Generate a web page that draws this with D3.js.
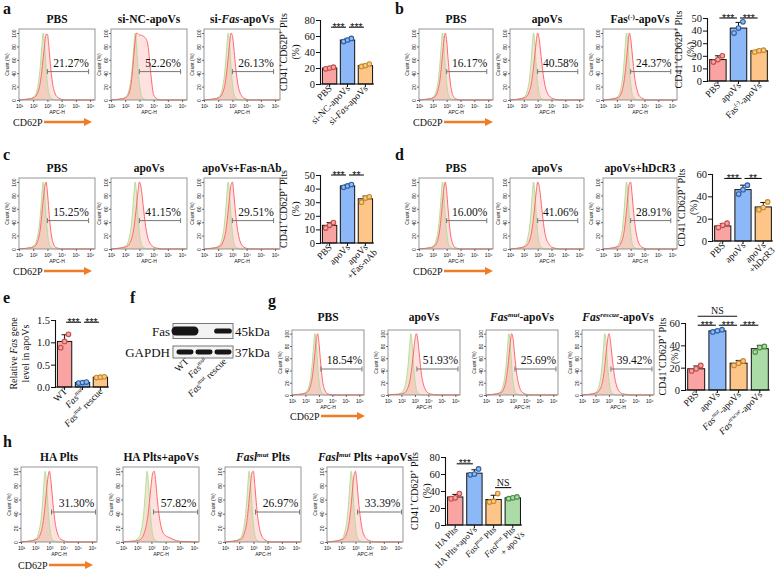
<!DOCTYPE html>
<html><head><meta charset="utf-8">
<script src="https://cdnjs.cloudflare.com/ajax/libs/d3/7.8.5/d3.min.js"></script>
<style>
body{margin:0;background:#fff}
svg{display:block}
svg text{font-family:"Liberation Serif","Tinos","Times New Roman","DejaVu Serif","Noto Serif",serif;fill:#111}
svg text.sans{font-family:"Liberation Sans","Arimo",Arial,"DejaVu Sans",sans-serif}
</style>
</head><body>
<svg id="c" width="780" height="572"></svg>
<script>
// ---------------- DATA ----------------
const histLogs = [1.0,1.5,1.8,2.0,2.2,2.3,2.4,2.5,2.6,2.7,2.8,2.9,3.0,3.1,3.2,3.3,3.4,3.5,3.6,3.8,4.0,4.3,4.6,5.0,6.3];
const controlCurve = [0,1,2,4,10,18,30,50,78,100,82,50,25,10,4,2,1,0,0,0,0,0,0,0,0];
const histTicks = [1,2,3,4,5,6];
const countTicks = [0,20,40,60,80,100];

// panel a
const aTitles = ["PBS","si-NC-apoVs","si-<i>Fas</i>-apoVs"];
const aPct = ["21.27%","52.26%","26.13%"];
const aRed = [
  [0,1,2,3,6,10,16,26,42,62,82,98,98,80,55,35,20,12,7,3,1,0,0,0,0],
  [0,1,2,3,7,12,22,40,65,88,100,99,97,97,96,95,93,90,82,40,8,1,0,0,0],
  [0,1,2,3,6,10,16,26,42,62,84,100,96,78,55,36,22,13,8,3,1,0,0,0,0]];
const aCats = ["PBS","si-NC-apoVs","si-<i>Fas</i>-apoVs"];
const aMeans = [20,55,23];
const aSD = [1,2,1.5];
const aDots = [[19,20,21],[53,55,57],[22,23,25]];
const aSigs = [[0,1,71,"***"],[1,2,71,"***"]];

// panel b
const bTitles = ["PBS","apoVs","Fas<sup>(-)</sup>-apoVs"];
const bPct = ["16.17%","40.58%","24.37%"];
const bRed = [
  [0,1,2,3,6,10,17,28,46,68,88,100,88,62,38,20,10,5,2,1,0,0,0,0,0],
  [0,1,2,3,5,8,13,20,32,48,68,88,100,92,75,55,38,25,16,7,3,1,0,0,0],
  [0,1,2,3,5,9,15,25,40,60,82,100,92,72,50,32,20,12,7,3,1,0,0,0,0]];
const bCats = ["PBS","apoVs","Fas<sup>(-)</sup>-apoVs"];
const bMeans = [17,42,24];
const bSD = [3,4.5,0.8];
const bDots = [[15,17,20],[38,42,47],[23,24,24.5]];
const bSigs = [[0,1,50,"***"],[1,2,50,"***"]];

// panel c
const cTitles = ["PBS","apoVs","apoVs+Fas-nAb"];
const cPct = ["15.25%","41.15%","29.51%"];
const cRed = [
  [0,1,2,3,6,11,18,30,50,72,92,100,85,58,34,18,9,4,2,1,0,0,0,0,0],
  [0,1,2,3,5,8,12,19,30,46,66,86,100,94,78,58,40,26,16,7,3,1,0,0,0],
  [0,1,2,3,5,9,14,23,37,56,78,96,100,82,58,38,24,14,8,3,1,0,0,0,0]];
const cCats = ["PBS","apoVs","apoVs|+Fas-nAb"];
const cMeans = [13,42,32.5];
const cSD = [2,1,2];
const cDots = [[11,13,15],[41,42,43],[30,33,34]];
const cSigs = [[0,1,50,"***"],[1,2,50,"**"]];

// panel d
const dTitles = ["PBS","apoVs","apoVs+hDcR3"];
const dPct = ["16.00%","41.06%","28.91%"];
const dRed = [
  [0,1,2,3,6,10,17,29,48,70,90,100,86,60,36,19,10,5,2,1,0,0,0,0,0],
  [0,1,2,3,5,8,12,19,30,46,66,86,100,95,80,60,42,27,17,8,3,1,0,0,0],
  [0,1,2,3,5,9,14,23,37,57,80,97,100,82,58,38,24,14,8,3,1,0,0,0,0]];
const dCats = ["PBS","apoVs","apoVs|+hDcR3"];
const dMeans = [13.5,46,30.5];
const dSD = [2,4,4];
const dDots = [[12,14,16],[42,46,50],[28,30,35]];
const dSigs = [[0,1,56,"***"],[1,2,56,"**"]];

// panel e
const eCats = ["WT","<i>Fas</i><sup>mut</sup>","<i>Fas</i><sup>mut</sup> rescue"];
const eMeans = [1.02,0.10,0.22];
const eSD = [0.15,0.01,0.015];
const eDots = [[0.88,1.02,1.18],[0.09,0.10,0.11],[0.21,0.22,0.23]];
const eSigs = [[0,1,1.45,"***"],[1,2,1.45,"***"]];

// panel f (western blot, relative band intensity)
const blotLanes = ["WT","<i>Fas</i><sup>mut</sup>","<i>Fas</i><sup>mut</sup> rescue"];
const blotRows = ["Fas","GAPDH"];
const blotSizes = ["45kDa","37kDa"];
const fasBand = [1.0,0.0,0.45];
const gapdhBand = [0.42,0.42,0.42];

// panel g
const gTitles = ["PBS","apoVs","<i>Fas<sup>mut</sup></i>-apoVs","<i>Fas<sup>rescue</sup></i>-apoVs"];
const gPct = ["18.54%","51.93%","25.69%","39.42%"];
const gRed = [
  [0,1,2,3,6,10,17,28,46,68,90,100,86,60,36,19,10,5,2,1,0,0,0,0,0],
  [0,1,1,2,3,5,8,13,21,33,50,70,90,100,92,72,50,32,20,8,3,1,0,0,0],
  [0,1,2,3,5,9,15,25,41,62,84,100,94,72,50,32,20,12,7,3,1,0,0,0,0],
  [0,1,2,3,5,8,12,19,31,48,70,90,100,90,70,50,33,21,13,5,2,1,0,0,0]];
const gCats = ["PBS","apoVs","<i>Fas<sup>mut</sup></i>-apoVs","<i>Fas<sup>rescue</sup></i>-apoVs"];
const gMeans = [19,53,24,37];
const gSD = [2.5,1,2.5,3];
const gDots = [[17,19,22],[52,53,54],[22,24,26],[34,38,39]];
const gSigs = [[0,2,66,"NS"],[0,1,58,"***"],[1,2,58,"***"],[2,3,58,"***"]];

// panel h
const hTitles = ["HA Plts","HA Plts+apoVs","<i>Fasl<sup>mut</sup></i> Plts","<i>Fasl<sup>mut</sup></i> Plts +apoVs"];
const hPct = ["31.30%","57.82%","26.97%","33.39%"];
const hRed = [
  [0,1,2,3,5,8,13,21,34,52,74,92,100,88,66,44,28,17,10,4,2,0,0,0,0],
  [0,1,1,2,3,5,8,13,20,30,45,64,84,98,100,86,64,44,30,14,9,6,3,1,0],
  [0,1,2,3,5,9,15,24,39,60,82,98,100,80,56,36,22,13,8,3,1,0,0,0,0],
  [0,1,2,3,5,8,13,21,34,52,75,94,100,86,62,42,27,16,10,4,2,0,0,0,0]];
const hCats = ["HA Plts","HA Plts+apoVs","<i>Fasl</i><sup>mut</sup> Plts","<i>Fasl</i><sup>mut</sup> Plts|+ apoVs"];
const hMeans = [33,61,30,32];
const hSD = [3,4,5,1];
const hDots = [[31,32,37],[59,60,66],[27,28,37],[31,32,33]];
const hSigs = [[0,1,72,"***"],[2,3,44,"NS"]];

const barFill = ["#f9a3a3","#8db8f7","#fdc688","#abdca7"];
const dotStroke = ["#c2504c","#2f5f9e","#c78a2d","#4a8f45"];
const supDigits = {1:"¹",2:"²",3:"³",4:"⁴",5:"⁵",6:"⁶"};

// ---------------- HELPERS ----------------
const svg = d3.select("#c");

function rich(textSel, str, fs){
  const tokens = str.split(/(<\/?(?:i|sup)>)/).filter(s=>s.length);
  let it=false, sup=false, pend=0;
  tokens.forEach(tk=>{
    if(tk==="<i>") it=true;
    else if(tk==="</i>") it=false;
    else if(tk==="<sup>"){sup=true; pend-=fs*0.38;}
    else if(tk==="</sup>"){sup=false; pend+=fs*0.38;}
    else{
      const ts=textSel.append("tspan").text(tk)
        .attr("font-size", sup? fs*0.62 : fs);
      if(it) ts.attr("font-style","italic");
      if(pend) ts.attr("dy",pend);
      pend=0;
    }
  });
  return textSel;
}

function panelLabel(t,x,y){
  svg.append("text").attr("x",x).attr("y",y).attr("font-size",16).attr("font-weight","bold").text(t);
}

function arrowCD62P(x,y,x2){
  svg.append("text").attr("x",x).attr("y",y+3.5).attr("font-size",10).text("CD62P");
  svg.append("line").attr("x1",x+31).attr("x2",x2-6).attr("y1",y).attr("y2",y)
    .attr("stroke","#f07d26").attr("stroke-width",2.4);
  svg.append("path").attr("d",`M${x2},${y}L${x2-8},${y-4}L${x2-8},${y+4}Z`).attr("fill","#f07d26");
}

function hist(o){
  const g = svg.append("g");
  const x = d3.scaleLinear().domain([1,6.35]).range([o.left,o.left+o.w]);
  const y = d3.scaleLinear().domain([0,106]).range([o.top+o.h,o.top]);
  const area = d3.area().x((d,i)=>x(histLogs[i])).y0(y(0)).y1(d=>y(d)).curve(d3.curveMonotoneX);
  const line = area.lineY1();
  g.append("path").attr("d",area(controlCurve)).attr("fill","rgba(220,196,150,0.45)");
  g.append("path").attr("d",area(o.red)).attr("fill","rgba(250,150,150,0.28)");
  g.append("path").attr("d",line(controlCurve)).attr("fill","none").attr("stroke","#b5de98").attr("stroke-width",1);
  g.append("path").attr("d",line(o.red)).attr("fill","none").attr("stroke","#ff6868").attr("stroke-width",1);
  g.append("rect").attr("x",o.left).attr("y",o.top).attr("width",o.w).attr("height",o.h)
    .attr("fill","none").attr("stroke","#8a8a8a").attr("stroke-width",0.9);
  const ya = g.append("g").attr("transform",`translate(${o.left},0)`)
    .call(d3.axisLeft(y).tickValues(countTicks).tickSize(2));
  ya.select(".domain").remove();
  ya.selectAll("line").attr("stroke","#666");
  ya.selectAll("text").attr("class","sans").attr("font-size",5).attr("fill","#333")
    .attr("transform","rotate(-90)").attr("x",0).attr("y",-3.5).attr("dy",0).attr("text-anchor","middle");
  const xa = g.append("g").attr("transform",`translate(0,${o.top+o.h})`)
    .call(d3.axisBottom(x).tickValues(histTicks).tickSize(2).tickFormat(d=>"10"+supDigits[d]));
  xa.select(".domain").remove();
  xa.selectAll("line").attr("stroke","#666");
  xa.selectAll("text").attr("class","sans").attr("font-size",5).attr("fill","#333").attr("y",4);
  g.append("text").attr("class","sans").attr("x",o.left+o.w/2).attr("y",o.top+o.h+14)
    .attr("font-size",5).attr("text-anchor","middle").attr("fill","#333").text("APC-H");
  g.append("text").attr("class","sans").attr("transform",`translate(${o.left-10},${o.top+o.h/2}) rotate(-90)`)
    .attr("font-size",5).attr("text-anchor","middle").attr("fill","#333").text("Count (%)");
  rich(g.append("text").attr("x",o.left+o.w/2).attr("y",o.top-o.tgap).attr("text-anchor","middle")
    .attr("font-weight","bold"), o.title, 11.5);
  const gy = o.top+o.h*0.6, gx1=x(o.gate[0]), gx2=x(o.gate[1]);
  g.append("line").attr("x1",gx1).attr("x2",gx2).attr("y1",gy).attr("y2",gy).attr("stroke","#777").attr("stroke-width",1);
  [gx1,gx2].forEach(v=>g.append("line").attr("x1",v).attr("x2",v).attr("y1",gy-2.5).attr("y2",gy+2.5).attr("stroke","#777"));
  g.append("text").attr("x",(gx1+gx2)/2+3).attr("y",gy-5).attr("text-anchor","middle")
    .attr("font-size",11.5).text(o.pct);
}

function histRow(lefts, top, w, h, titles, pcts, reds, gate, tgap){
  lefts.forEach((l,i)=>hist({left:l,top:top,w:w,h:h,title:titles[i],pct:pcts[i],red:reds[i],gate:gate,tgap:tgap}));
}

function barChart(c){
  const g = svg.append("g");
  const n = c.cats.length;
  const fsCat = c.catFs || 9.5;
  const x = d3.scaleBand().domain(d3.range(n)).range([c.axisX+1,c.xEnd]).paddingInner(0.2).paddingOuter(0.08);
  const y = d3.scaleLinear().domain([0,c.max]).range([c.y0,c.y1]);
  const bw = x.bandwidth();
  const cx = i=>x(i)+bw/2;
  g.selectAll(".bar").data(c.means).join("rect")
    .attr("x",(d,i)=>x(i)).attr("y",d=>y(d)).attr("width",bw).attr("height",d=>c.y0-y(d))
    .attr("fill",(d,i)=>barFill[i]).attr("stroke","#111").attr("stroke-width",1);
  c.means.forEach((m,i)=>{
    const top=y(m+c.sd[i]);
    g.append("line").attr("x1",cx(i)).attr("x2",cx(i)).attr("y1",y(m)).attr("y2",top).attr("stroke","#111");
    g.append("line").attr("x1",cx(i)-3).attr("x2",cx(i)+3).attr("y1",top).attr("y2",top).attr("stroke","#111");
  });
  c.dots.forEach((arr,i)=>arr.forEach((v,j)=>{
    g.append("circle").attr("cx",cx(i)+(j-1)*bw*0.27).attr("cy",y(v)).attr("r",2.3)
      .attr("fill",barFill[i]).attr("stroke",dotStroke[i]).attr("stroke-width",1.1);
  }));
  const ya = g.append("g").attr("transform",`translate(${c.axisX},0)`)
    .call(d3.axisLeft(y).tickValues(d3.range(0,c.max+c.step/2,c.step)).tickSize(4).tickFormat(c.fmt||d3.format("d")));
  ya.attr("font-family",null);
  ya.select(".domain").attr("stroke","#111").attr("stroke-width",1.1);
  ya.selectAll(".tick line").attr("stroke","#111");
  ya.selectAll("text").attr("font-size",10.5).attr("fill","#222").attr("x",-5);
  g.append("line").attr("x1",c.axisX).attr("x2",c.xEnd).attr("y1",c.y0).attr("y2",c.y0).attr("stroke","#111").attr("stroke-width",1.1);
  c.cats.forEach((lab,i)=>{
    g.append("line").attr("x1",cx(i)).attr("x2",cx(i)).attr("y1",c.y0).attr("y2",c.y0+3).attr("stroke","#111");
    const parts = lab.split("|");
    parts.forEach((p,k)=>{
      const t = g.append("text").attr("transform",`translate(${cx(i)+3},${c.y0+5}) rotate(-45)`)
        .attr("text-anchor","end").attr("y",k*10).attr("x",k*3);
      rich(t,p,fsCat);
    });
  });
  c.sigs.forEach(([a,b,v,lab])=>{
    const ly=y(v), x1=cx(a)+1.5, x2=cx(b)-1.5;
    g.append("line").attr("x1",x1).attr("x2",x2).attr("y1",ly).attr("y2",ly).attr("stroke","#111").attr("stroke-width",1.1);
    if(lab==="NS") g.append("text").attr("x",(x1+x2)/2).attr("y",ly-2).attr("text-anchor","middle").attr("font-size",10).text(lab);
    else g.append("text").attr("class","sans").attr("x",(x1+x2)/2).attr("y",ly+3.5).attr("text-anchor","middle").attr("font-size",10.5).text(lab);
  });
  const mid=(c.y0+c.y1)/2;
  c.title.forEach((tl,k)=>{
    rich(g.append("text").attr("transform",`translate(${c.titleX+k*11.5},${mid}) rotate(-90)`).attr("text-anchor","middle"), tl, 10);
  });
}

// ---------------- DRAW ----------------
const plTitle = ["CD41<sup>+</sup>CD62P<sup>+</sup> Plts","(%)"];

panelLabel("a",3,14); panelLabel("b",395,14);
histRow([19,111,204],29,76,71,aTitles,aPct,aRed,[3.0,5.9],6);
arrowCD62P(13,122,92);
barChart({axisX:320,xEnd:374,y0:84,y1:20,max:80,step:20,cats:aCats,means:aMeans,sd:aSD,dots:aDots,sigs:aSigs,title:plTitle,titleX:287});
histRow([419,510,603],29,74,71,bTitles,bPct,bRed,[3.0,5.9],6);
arrowCD62P(413,122,493);
barChart({axisX:707,xEnd:769,y0:81,y1:18,max:50,step:10,cats:bCats,means:bMeans,sd:bSD,dots:bDots,sigs:bSigs,title:plTitle,titleX:682});

panelLabel("c",3,160); panelLabel("d",395,160);
histRow([19,111,204],178,76,71,cTitles,cPct,cRed,[3.0,5.9],6);
arrowCD62P(13,271,92);
barChart({axisX:320,xEnd:374,y0:243,y1:175,max:50,step:10,cats:cCats,means:cMeans,sd:cSD,dots:cDots,sigs:cSigs,title:plTitle,titleX:287});
histRow([419,510,603],178,74,71,dTitles,dPct,dRed,[3.0,5.9],6);
arrowCD62P(413,271,493);
barChart({axisX:712,xEnd:773,y0:241,y1:174,max:60,step:20,cats:dCats,means:dMeans,sd:dSD,dots:dDots,sigs:dSigs,title:plTitle,titleX:685});

panelLabel("e",3,303); panelLabel("f",130,303); panelLabel("g",268,306);
barChart({axisX:55,xEnd:109,y0:387,y1:320,max:1.5,step:0.5,fmt:d3.format(".1f"),cats:eCats,means:eMeans,sd:eSD,dots:eDots,sigs:eSigs,
  title:["Relative <i>Fas</i> gene","level in apoVs"],titleX:17});

(function(){
  const g=svg.append("g");
  const defs=svg.append("defs");
  defs.append("filter").attr("id","blur").append("feGaussianBlur").attr("stdDeviation",0.7);
  const lx=d3.scalePoint().domain(d3.range(3)).range([185,223]);
  const rowsY=[331,352], rowsH=[15,12];
  [fasBand,gapdhBand].forEach((band,r)=>{
    g.append("rect").attr("x",173).attr("y",rowsY[r]-rowsH[r]/2).attr("width",60).attr("height",rowsH[r])
      .attr("fill","#f3f3f3").attr("stroke","#777").attr("stroke-width",1);
    band.forEach((v,i)=>{
      if(v<=0) return;
      const bw=10+17*v, bh=2+7*v;
      g.append("rect").attr("x",lx(i)-bw/2).attr("y",rowsY[r]-bh/2).attr("width",bw).attr("height",bh)
        .attr("rx",bh/2).attr("fill","#141414").attr("filter","url(#blur)");
    });
    g.append("text").attr("x",170).attr("y",rowsY[r]+4.5).attr("text-anchor","end").attr("font-size",13).text(blotRows[r]);
    g.append("text").attr("x",235).attr("y",rowsY[r]+4.5).attr("font-size",13).text(blotSizes[r]);
  });
  blotLanes.forEach((lab,i)=>{
    rich(g.append("text").attr("transform",`translate(${lx(i)+4},${362}) rotate(-45)`).attr("text-anchor","end"),lab,9.5);
  });
})();

histRow([292,388,486,582],330,72,65,gTitles,gPct,gRed,[3.15,6.2],9);
arrowCD62P(290,416,365);
barChart({axisX:685,xEnd:770,y0:390,y1:323,max:60,step:20,cats:gCats,means:gMeans,sd:gSD,dots:gDots,sigs:gSigs,title:plTitle,titleX:666});

panelLabel("h",3,447);
histRow([21,123,225,327],467,76,75,hTitles,hPct,hRed,[3.15,6.25],6);
arrowCD62P(18,565,93);
barChart({axisX:445,xEnd:522,y0:525,y1:457,max:80,step:20,catFs:8.8,cats:hCats,means:hMeans,sd:hSD,dots:hDots,sigs:hSigs,title:plTitle,titleX:418});
</script>
</body></html>
